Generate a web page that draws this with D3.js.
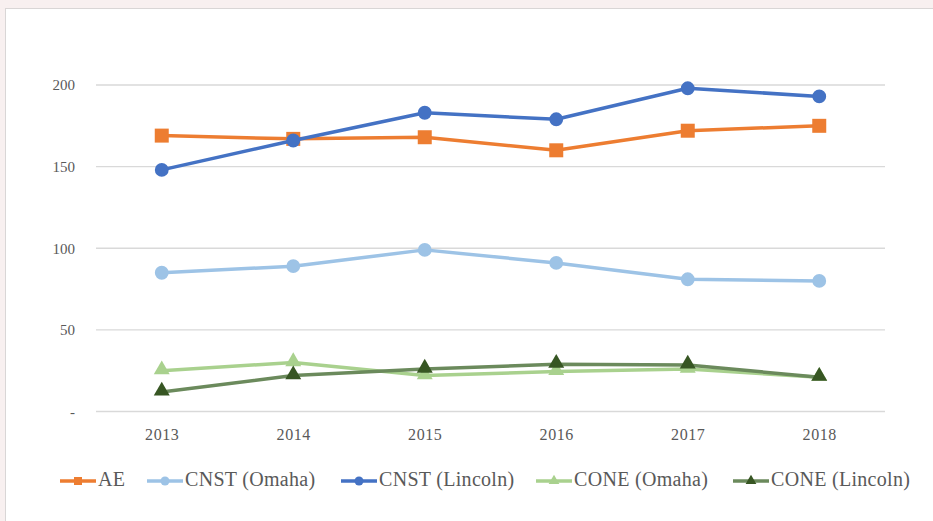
<!DOCTYPE html>
<html>
<head>
<meta charset="utf-8">
<script src="https://cdn.jsdelivr.net/npm/d3@7"></script>
<style>
  html, body { margin: 0; padding: 0; background: #f8f0f0; }
  #card { position: absolute; left: 5px; top: 8px; width: 940px; height: 530px;
          background: #fff; border: 1px solid #d9d6d6; box-sizing: border-box; }
  svg { position: absolute; left: 0; top: 0; }
  text { font-family: "Liberation Serif", "DejaVu Serif", serif; fill: #595959; }
</style>
</head>
<body>
<div id="card"></div>
<svg id="chart" width="933" height="521"></svg>
<script>
const years = ['2013', '2014', '2015', '2016', '2017', '2018'];
const yTicks = [0, 50, 100, 150, 200];

const ae = [169, 167, 168, 160, 172, 175];
const cnstOmaha = [85, 89, 99, 91, 81, 80];
const cnstLincoln = [148, 166, 183, 179, 198, 193];
const coneOmaha = [25, 30, 22, 24.5, 26, 21];
const coneLincoln = [12, 22, 26, 29, 28.5, 21];

const series = [
  { name: 'AE', values: ae, line: '#ed7d31', fill: '#ed7d31', shape: 'square' },
  { name: 'CNST (Omaha)', values: cnstOmaha, line: '#9dc3e6', fill: '#9dc3e6', shape: 'circle' },
  { name: 'CNST (Lincoln)', values: cnstLincoln, line: '#4472c4', fill: '#4472c4', shape: 'circle' },
  { name: 'CONE (Omaha)', values: coneOmaha, line: '#a9d18e', fill: '#a9d18e', shape: 'triangle' },
  { name: 'CONE (Lincoln)', values: coneLincoln, line: '#6b8a5c', fill: '#375623', shape: 'triangle' }
];

const plot = { left: 96, right: 885, top: 85, bottom: 411.5 };

const svg = d3.select('#chart');

const x = d3.scalePoint().domain(years).range([plot.left, plot.right]).padding(0.5);
const y = d3.scaleLinear().domain([0, 200]).range([plot.bottom, plot.top]);

// gridlines
svg.append('g')
  .selectAll('line')
  .data(yTicks)
  .enter()
  .append('line')
  .attr('x1', plot.left)
  .attr('x2', plot.right)
  .attr('y1', d => y(d))
  .attr('y2', d => y(d))
  .attr('stroke', '#d9d9d9')
  .attr('stroke-width', 1.3);

// y axis labels
const yAxis = d3.axisLeft(y).tickValues(yTicks).tickSize(0).tickPadding(0)
  .tickFormat(d => d === 0 ? '-' : d);
const yg = svg.append('g').attr('transform', `translate(${plot.left - 21},0)`).call(yAxis);
yg.select('.domain').remove();
yg.selectAll('text').style('font-size', '15px').attr('fill', '#595959')
  .style('font-family', '"Liberation Serif", serif');

// x axis labels
const xAxis = d3.axisBottom(x).tickSize(0).tickPadding(0);
const xg = svg.append('g').attr('transform', `translate(0,${plot.bottom + 17})`).call(xAxis);
xg.select('.domain').remove();
xg.selectAll('text').style('font-size', '16px').style('letter-spacing', '0.6px').attr('fill', '#595959')
  .style('font-family', '"Liberation Serif", serif');

const symbolFor = shape => {
  if (shape === 'square') return d3.symbol().type(d3.symbolSquare).size(196);
  if (shape === 'circle') return d3.symbol().type(d3.symbolCircle).size(150);
  return d3.symbol().type(d3.symbolTriangle).size(110);
};

const line = d3.line().x((d, i) => x(years[i])).y(d => y(d));

series.forEach(s => {
  const g = svg.append('g');
  g.append('path')
    .attr('d', line(s.values))
    .attr('fill', 'none')
    .attr('stroke', s.line)
    .attr('stroke-width', 3.5)
    .attr('stroke-linejoin', 'round');
  g.selectAll('path.mark')
    .data(s.values)
    .enter()
    .append('path')
    .attr('class', 'mark')
    .attr('d', symbolFor(s.shape))
    .attr('transform', (d, i) => `translate(${x(years[i])},${y(d) + (s.shape === 'triangle' ? -1 : 0)})`)
    .attr('fill', s.fill);
});

// legend
const legendX = [60, 147, 341, 536, 733];
const legendY = 481;
const legend = svg.append('g');
series.forEach((s, i) => {
  const lg = legend.append('g').attr('transform', `translate(${legendX[i]},${legendY})`);
  lg.append('line').attr('x1', 0).attr('x2', 36).attr('y1', 0).attr('y2', 0)
    .attr('stroke', s.line).attr('stroke-width', 3.5);
  const sym = s.shape === 'square' ? d3.symbol().type(d3.symbolSquare).size(64)
    : s.shape === 'circle' ? d3.symbol().type(d3.symbolCircle).size(64)
    : d3.symbol().type(d3.symbolTriangle).size(50);
  lg.append('path').attr('d', sym).attr('transform', 'translate(18,0)').attr('fill', s.fill);
  lg.append('text').attr('x', 38).attr('y', 4.5).style('font-size', '20px')
    .style('letter-spacing', '0.3px').text(s.name);
});
</script>
</body>
</html>
